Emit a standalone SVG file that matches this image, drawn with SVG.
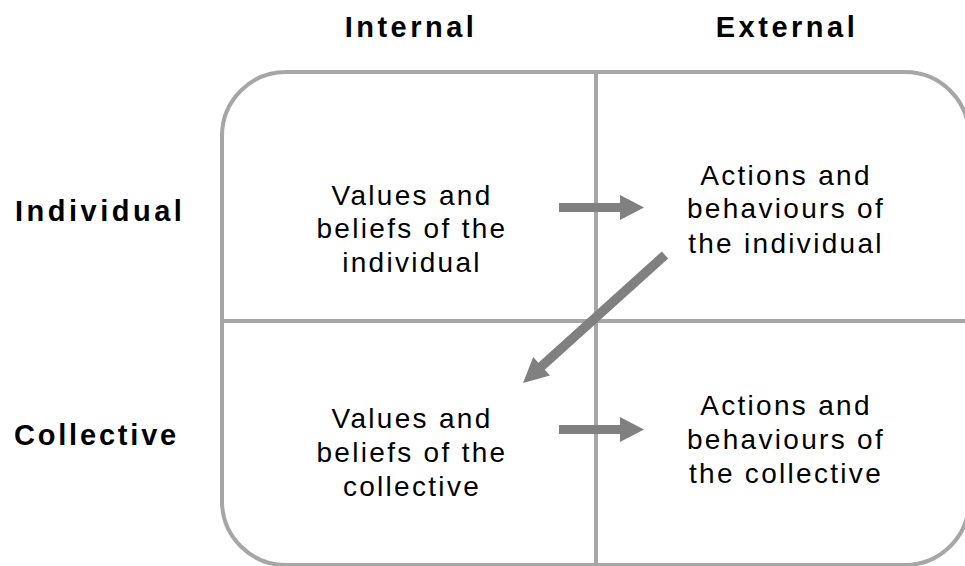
<svg xmlns="http://www.w3.org/2000/svg" width="965" height="566" viewBox="0 0 965 566">
<style>
.frame{fill:none;stroke:#a6a6a6;stroke-width:4}
.div{stroke:#a6a6a6;stroke-width:4}
.arrow{fill:#808080}
.hdr{font-family:"Liberation Sans",Arial,sans-serif;font-weight:bold;font-size:29px;letter-spacing:3.5px;fill:#000}
.body{font-family:"Liberation Sans",Arial,sans-serif;font-size:28px;letter-spacing:2.3px;fill:#000;text-anchor:middle}
</style>
<rect width="965" height="566" fill="#fff"/>
<g id="frame">
<rect class="frame" x="222" y="72" width="747" height="493" rx="64" ry="64"/>
<line class="div" x1="596" y1="72" x2="596" y2="566"/>
<line class="div" x1="222" y1="321" x2="966" y2="321"/>
</g>
<g id="headers">
<text class="hdr" x="411" y="37" text-anchor="middle">Internal</text>
<text class="hdr" x="787" y="37" text-anchor="middle">External</text>
<text class="hdr" x="15" y="221">Individual</text>
<text class="hdr" x="14" y="445" style="letter-spacing:2.8px">Collective</text>
</g>
<g id="q1">
<text class="body" x="412" y="205">Values and</text>
<text class="body" x="412" y="238">beliefs of the</text>
<text class="body" x="412" y="272">individual</text>
</g>
<g id="q2">
<text class="body" x="786" y="185">Actions and</text>
<text class="body" x="786" y="218">behaviours of</text>
<text class="body" x="786" y="253">the individual</text>
</g>
<g id="q3">
<text class="body" x="412" y="428">Values and</text>
<text class="body" x="412" y="462">beliefs of the</text>
<text class="body" x="412" y="496">collective</text>
</g>
<g id="q4">
<text class="body" x="786" y="415">Actions and</text>
<text class="body" x="786" y="449">behaviours of</text>
<text class="body" x="786" y="483">the collective</text>
</g>
<g id="connectors">
<polygon class="arrow" points="559,203 620,203 620,195 644,207.5 620,220 620,212 559,212"/>
<polygon class="arrow" points="559,425 620,425 620,417 644,429.5 620,442 620,434 559,434"/>
<polygon class="arrow" points="661.8,251.5 668.2,258.5 544.8,369.8 550,375.6 523,383 533.2,357 538.4,362.8"/>
</g>
</svg>
